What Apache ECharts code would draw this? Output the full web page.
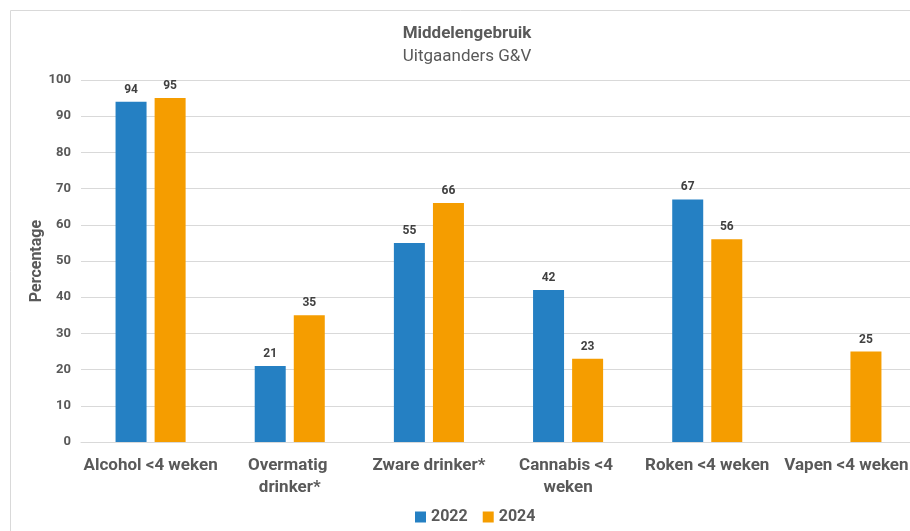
<!DOCTYPE html>
<html><head><meta charset="utf-8">
<script src="https://cdn.jsdelivr.net/npm/echarts@6/dist/echarts.min.js"></script>
<style>html,body{margin:0;padding:0;background:#fff}#c{width:910px;height:531px}</style>
</head><body><div id="c"></div>
<script>
const categories = ["Alcohol <4 weken", "Overmatig drinker*", "Zware drinker*", "Cannabis <4 weken", "Roken <4 weken", "Vapen <4 weken"];
const series2022 = [94, 21, 55, 42, 67, null];
const series2024 = [95, 35, 66, 23, 56, 25];
const yTicks = [0, 10, 20, 30, 40, 50, 60, 70, 80, 90, 100];
const seriesNames = ["2022", "2024"];

const chart = echarts.init(document.getElementById('c'), null, {renderer: 'canvas'});
const font = 'Roboto, "Liberation Sans", sans-serif';
const gray = '#595959';
const valLabel = {show: true, position: 'top', distance: 6, color: '#404040', fontWeight: 'bold', fontSize: 12, fontFamily: font};
chart.setOption({
  animation: false,
  textStyle: {fontFamily: font},
  graphic: [{type: 'polyline', shape: {points: [[10.5, 540], [10.5, 10.5], [920, 10.5]]}, style: {stroke: '#d9d9d9', lineWidth: 1, fill: null}}],
  title: {
    text: 'Middelengebruik', subtext: 'Uitgaanders G&V', left: 462, textAlign: 'center', top: 20,
    textStyle: {fontSize: 17, fontWeight: 'bold', color: gray, fontFamily: font},
    subtextStyle: {fontSize: 17, color: gray, fontFamily: font}, itemGap: 6
  },
  legend: {
    data: seriesNames, left: 410, top: 504, itemWidth: 11, itemHeight: 11, itemGap: 15,
    icon: 'rect', textStyle: {fontSize: 16, fontWeight: 'bold', color: gray, fontFamily: font}
  },
  grid: {left: 81, top: 80, width: 835, height: 362, containLabel: false, outerBoundsMode: 'none'},
  xAxis: {
    type: 'category', data: categories,
    axisLine: {lineStyle: {color: '#d9d9d9'}}, axisTick: {show: false},
    axisLabel: {interval: 0, margin: 13, width: 139, overflow: 'break', fontSize: 17, fontWeight: 'bold', color: gray, lineHeight: 22, fontFamily: font}
  },
  yAxis: {
    type: 'value', min: yTicks[0], max: yTicks[yTicks.length - 1], interval: 10,
    name: 'Percentage', nameLocation: 'middle', nameGap: 36, nameMoveOverlap: false,
    nameTextStyle: {fontSize: 16, fontWeight: 'bold', color: gray, fontFamily: font},
    axisLine: {show: false}, axisTick: {show: false},
    axisLabel: {margin: 10, fontSize: 13, fontWeight: 'bold', color: gray, fontFamily: font},
    splitLine: {lineStyle: {color: '#d9d9d9'}}
  },
  series: [
    {name: seriesNames[0], type: 'bar', data: series2022, barWidth: 31, barGap: '26%', itemStyle: {color: '#2580C3'}, label: valLabel},
    {name: seriesNames[1], type: 'bar', data: series2024, barWidth: 31, itemStyle: {color: '#F59D00'}, label: valLabel}
  ]
});
</script></body></html>
